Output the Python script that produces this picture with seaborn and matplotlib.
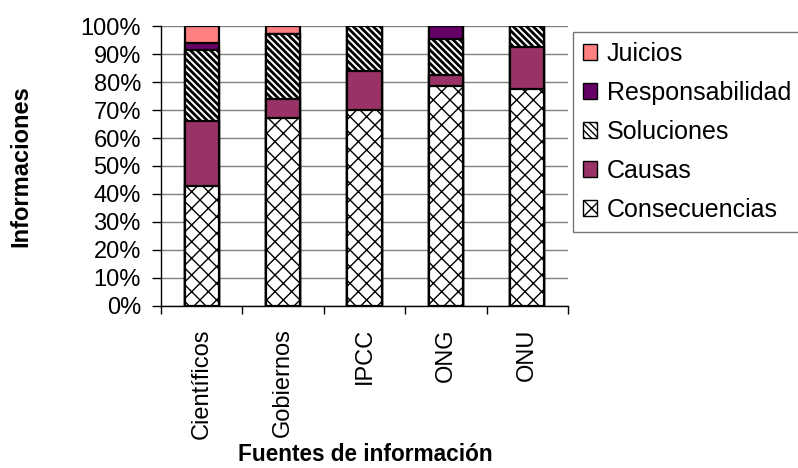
import matplotlib
matplotlib.use("Agg")

import matplotlib.pyplot as plt
from matplotlib.patches import Patch
from matplotlib.ticker import FixedLocator, PercentFormatter
import numpy as np
import seaborn as sns

# --------------------------------------------------------------------------- #
# Data (percentage of informaciones per source)
# --------------------------------------------------------------------------- #
FUENTES = ["Científicos", "Gobiernos", "IPCC", "ONG", "ONU"]
CONSECUENCIAS = [43, 67, 70, 78.5, 77.5]
CAUSAS = [23, 7, 14, 4, 15]
SOLUCIONES = [25.5, 23, 16, 13, 7.5]
RESPONSABILIDAD = [2.5, 0, 0, 4.5, 0]
JUICIOS = [6, 3, 0, 0, 0]

# bottom -> top
SERIES = [
    ("Consecuencias", CONSECUENCIAS, "white", "xx"),
    ("Causas", CAUSAS, "#993366", None),
    ("Soluciones", SOLUCIONES, "white", "\\\\\\\\\\"),
    ("Responsabilidad", RESPONSABILIDAD, "#660066", None),
    ("Juicios", JUICIOS, "#FF8080", None),
]

sns.set_style("white")
plt.rcParams["font.family"] = ["Liberation Sans", "DejaVu Sans"]
plt.rcParams["hatch.linewidth"] = 1.0
for key in ("text.color", "axes.labelcolor", "xtick.color", "ytick.color"):
    plt.rcParams[key] = "black"

fig = plt.figure(figsize=(7.98, 4.68), dpi=100)
ax = fig.add_axes([0.2018, 0.3462, 0.5100, 0.5982])

# Stacked bars: draw cumulative totals from the top layer down so each
# lower layer covers the part of the bar beneath it.
cum = np.cumsum([s[1] for s in SERIES], axis=0)
for i in range(len(SERIES) - 1, -1, -1):
    name, _, color, hatch = SERIES[i]
    n_before = len(ax.patches)
    sns.barplot(x=FUENTES, y=cum[i], color=color, saturation=1, width=0.42,
                edgecolor="black", linewidth=1.6, ax=ax, zorder=3)
    for p in ax.patches[n_before:]:
        if hatch:
            p.set_hatch(hatch)
            if name == "Soluciones" and hasattr(p, "set_hatch_linewidth"):
                p.set_hatch_linewidth(2.0)

ax.set_ylim(0, 100)
ax.set_xlim(-0.5, len(FUENTES) - 0.5)
ax.yaxis.set_major_locator(FixedLocator(np.arange(0, 101, 10)))
ax.yaxis.set_major_formatter(PercentFormatter(decimals=0))
ax.yaxis.grid(True, color="#808080", linewidth=1.0, zorder=0)
ax.set_axisbelow(True)

ax.xaxis.set_minor_locator(FixedLocator(np.arange(-0.5, len(FUENTES), 1)))
ax.tick_params(axis="x", which="major", length=0, pad=16, labelsize=17,
               rotation=90)
ax.tick_params(axis="x", which="minor", bottom=True, length=6, width=1,
               color="black")
ax.tick_params(axis="y", left=True, length=6.5, width=1, color="black",
               pad=8, labelsize=17)
for lab in ax.get_xticklabels():
    lab.set_va("top")

for side in ("top", "right"):
    ax.spines[side].set_visible(False)
for side in ("left", "bottom"):
    ax.spines[side].set_color("black")
    ax.spines[side].set_linewidth(1.0)

ax.set_xlabel("Fuentes de información", fontsize=16.3, fontweight="bold")
ax.set_ylabel("Informaciones", fontsize=17, fontweight="bold")
ax.xaxis.set_label_coords(0.503, -0.49)
ax.yaxis.set_label_coords(-0.315, 0.5)

handles = [Patch(facecolor=c, edgecolor="black", hatch=h, label=n)
           for n, _, c, h in reversed(SERIES)]
leg = fig.legend(handles=handles, loc="upper left",
                 bbox_to_anchor=(0.718, 0.932), fontsize=18,
                 frameon=True, fancybox=False, handlelength=0.55,
                 handleheight=0.55, handletextpad=0.4, labelspacing=0.6,
                 borderpad=0.4, borderaxespad=0)
leg.get_frame().set_edgecolor("#555555")
leg.get_frame().set_linewidth(1.0)

fig.savefig("out.png", dpi=100)
